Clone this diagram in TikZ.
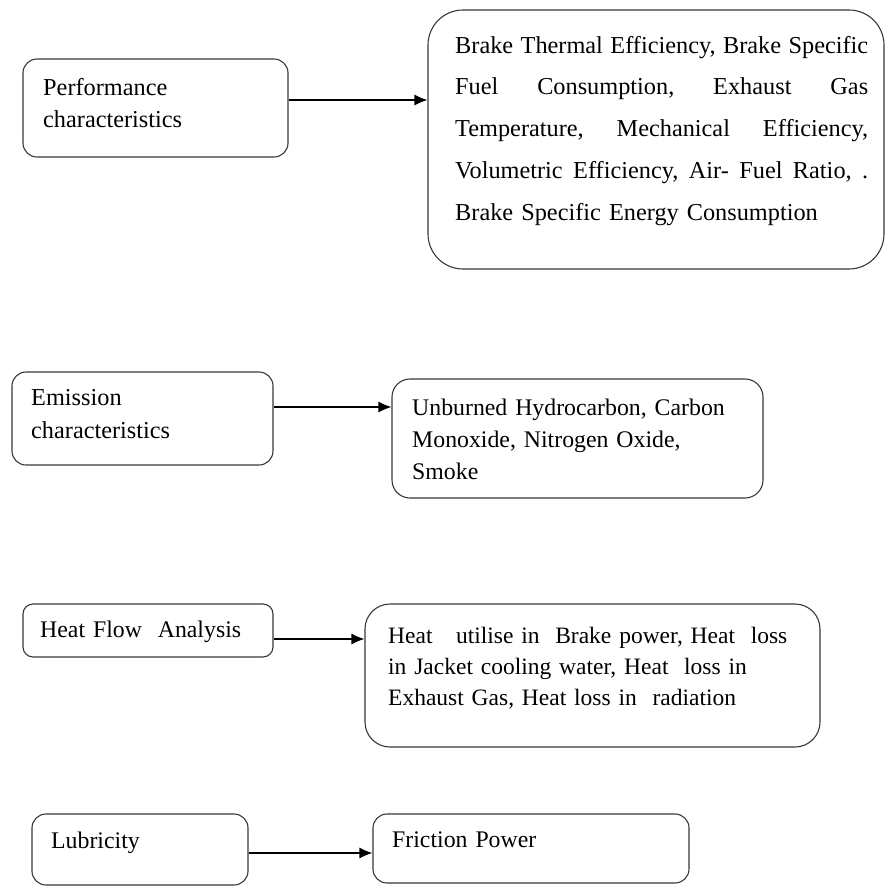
\documentclass[tikz,border=0pt]{standalone}
\usepackage{fontspec}
\setmainfont{Liberation Serif}
\usetikzlibrary{arrows.meta}
\begin{document}
\frenchspacing
\begin{tikzpicture}[x=1pt,y=-1pt,
  box/.style={draw=black!78, line width=1.1pt, rectangle, inner sep=0pt},
  txt/.style={anchor=base west, inner sep=0pt, align=left, font=\fontsize{23.8}{32}\selectfont},
  link/.style={draw=black, line width=1.2pt, -{Latex[length=13pt,width=11pt]}}]
\useasboundingbox (0,0) rectangle (885,887);

% boxes
\node[box, rounded corners=14pt, minimum width=265pt, minimum height=98pt]  (b1) at (155.5,108)   {};
\node[box, rounded corners=35pt, minimum width=456pt, minimum height=259pt] (b2) at (656,139.5)   {};
\node[box, rounded corners=14pt, minimum width=261pt, minimum height=93pt]  (b3) at (142.5,418.5) {};
\node[box, rounded corners=18pt, minimum width=371pt, minimum height=119pt] (b4) at (577.5,438.5) {};
\node[box, rounded corners=10pt, minimum width=250pt, minimum height=53pt]  (b5) at (148,630.5)   {};
\node[box, rounded corners=25pt, minimum width=455pt, minimum height=143pt] (b6) at (592.5,675.5) {};
\node[box, rounded corners=14pt, minimum width=216pt, minimum height=71pt]  (b7) at (140,849.5)   {};
\node[box, rounded corners=14pt, minimum width=316pt, minimum height=69pt]  (b8) at (531,848.5)   {};

% texts
\node[txt, text width=230pt, font=\fontsize{24.3}{32}\selectfont] (t1) at (43,95) {Performance\\characteristics};
\node[txt, text width=413pt, font=\fontsize{24.3}{41.75}\selectfont] (t2) at (455,53) {%
\makebox[413pt][l]{Brake\hfill Thermal\hfill Efficiency,\hfill Brake\hfill Specific}\\
\makebox[413pt][l]{Fuel\hfill Consumption,\hfill Exhaust\hfill Gas}\\
\makebox[413pt][l]{Temperature,\hfill Mechanical\hfill Efficiency,}\\
\makebox[413pt][l]{Volumetric\hfill Efficiency,\hfill Air-\hfill Fuel\hfill Ratio,\hfill .}\\
Brake Specific Energy Consumption};
\node[txt, text width=230pt, font=\fontsize{24.3}{33}\selectfont] (t3) at (31,405) {Emission\\characteristics};
\node[txt, text width=345pt] (t4) at (412,415) {Unburned Hydrocarbon, Carbon\\Monoxide, Nitrogen Oxide,\\Smoke};
\node[txt, text width=225pt] (t5) at (40,637) {Heat Flow\ \ Analysis};
\node[txt, text width=428pt, font=\fontsize{23.5}{31}\selectfont] (t6) at (388,643) {Heat\ \ \ utilise in\ \ Brake power, Heat\ \ loss\\in Jacket cooling water, Heat\ \ loss in\\Exhaust Gas, Heat loss in\ \ radiation};
\node[txt, text width=190pt] (t7) at (51,848) {Lubricity};
\node[txt, text width=290pt] (t8) at (392,847) {Friction Power};

% connectors
\coordinate (y1) at (0,100);
\coordinate (y3) at (0,407);
\coordinate (y5) at (0,639);
\coordinate (y7) at (0,853);
\draw[link] (b1.east |- y1) -- (b2.west |- y1);
\draw[link] (b3.east |- y3) -- (b4.west |- y3);
\draw[link] (b5.east |- y5) -- (b6.west |- y5);
\draw[link] (b7.east |- y7) -- (b8.west |- y7);
\end{tikzpicture}
\end{document}
